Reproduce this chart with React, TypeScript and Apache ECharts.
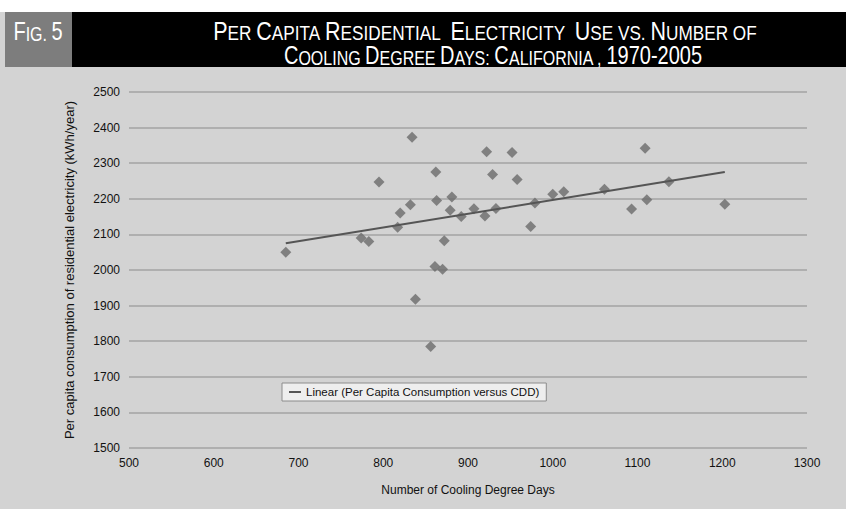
import React, { useEffect, useRef } from "react";
import * as echarts from "echarts";

// Cooling degree days (x) and per capita residential electricity use, kWh/year (y)
const cddValues = [
  685, 774, 783, 795, 817, 820, 832, 834, 838, 856, 861, 870, 862, 863, 872, 879, 881, 892,
  907, 920, 922, 929, 933, 952, 958, 974, 979, 1000, 1013, 1061, 1093, 1109, 1111, 1137, 1203,
];
const perCapitaValues = [
  2050, 2090, 2080, 2247, 2120, 2160, 2183, 2373, 1918, 1785, 2010, 2002, 2275, 2195, 2082, 2168, 2205, 2150,
  2172, 2152, 2332, 2268, 2173, 2330, 2254, 2122, 2188, 2213, 2220, 2227, 2171, 2342, 2197, 2248, 2185,
];
// Linear trendline end points
const trendX = [685, 1203];
const trendY = [2075, 2275];

const scatterName = "Per Capita Consumption versus CDD";
const trendName = "Linear (Per Capita Consumption versus CDD)";
const xAxisTitle = "Number of Cooling Degree Days";
const yAxisTitle = "Per capita consumption of residential electricity (kWh/year)";

const FONT = "Arial";

export default function App() {
  const ref = useRef<HTMLDivElement>(null);
  useEffect(() => {
    document.body.style.margin = "0";
    if (!ref.current) return;
    const chart = echarts.init(ref.current, undefined, { renderer: "svg" });
    const scatterData = cddValues.map((x, i) => [x, perCapitaValues[i]]);
    const trendData = trendX.map((x, i) => [x, trendY[i]]);
    const rich = {
      b: { fontSize: 25, fill: "#ffffff", fontFamily: FONT, verticalAlign: "bottom" },
      s: { fontSize: 20, fill: "#ffffff", fontFamily: FONT, verticalAlign: "bottom" },
    };
    chart.setOption({
      animation: false,
      backgroundColor: "#d3d3d3",
      textStyle: { fontFamily: FONT },
      graphic: [
        { type: "rect", shape: { x: 0, y: 0, width: 846, height: 12 }, style: { fill: "#ffffff" }, silent: true },
        { type: "rect", shape: { x: 5, y: 12, width: 67, height: 55 }, style: { fill: "#7d7d7d" }, silent: true },
        { type: "rect", shape: { x: 72, y: 12, width: 774, height: 55 }, style: { fill: "#000000" }, silent: true },
        {
          type: "text",
          x: 38,
          y: 32,
          scaleX: 0.8,
          style: {
            text: "{b|F}{s|IG.} {b|5}",
            rich,
            fontSize: 20,
            fontFamily: FONT,
            fill: "#ffffff",
            align: "center",
            verticalAlign: "middle",
          },
        },
        {
          type: "text",
          x: 485,
          y: 31,
          scaleX: 0.86,
          style: {
            text:
              "{b|P}{s|ER} {b|C}{s|APITA} {b|R}{s|ESIDENTIAL}  {b|E}{s|LECTRICITY}  {b|U}{s|SE} {s|VS.} {b|N}{s|UMBER} {s|OF}",
            rich,
            fontSize: 20,
            fontFamily: FONT,
            fill: "#ffffff",
            align: "center",
            verticalAlign: "middle",
          },
        },
        {
          type: "text",
          x: 493,
          y: 56,
          scaleX: 0.8,
          style: {
            text: "{b|C}{s|OOLING} {b|D}{s|EGREE} {b|D}{s|AYS:} {b|C}{s|ALIFORNIA ,} {b|1970-2005}",
            rich,
            fontSize: 20,
            fontFamily: FONT,
            fill: "#ffffff",
            align: "center",
            verticalAlign: "middle",
          },
        },
      ],
      grid: { left: 129, right: 39, top: 92, bottom: 61, containLabel: false },
      legend: {
        left: 282,
        top: 383,
        data: [{ name: trendName, icon: "rect" }],
        itemWidth: 12,
        itemHeight: 2,
        itemGap: 4,
        padding: [3, 7],
        backgroundColor: "#eeeeee",
        borderColor: "#8c8c8c",
        borderWidth: 1,
        textStyle: { fontSize: 11.5, color: "#111111", fontFamily: FONT },
      },
      xAxis: {
        type: "value",
        min: 500,
        max: 1300,
        interval: 100,
        name: xAxisTitle,
        nameLocation: "middle",
        nameGap: 36,
        nameTextStyle: { fontSize: 12, color: "#111111", fontFamily: FONT },
        axisLine: { show: false },
        axisTick: { show: false },
        splitLine: { show: false },
        axisLabel: { fontSize: 12, color: "#111111", margin: 9, fontFamily: FONT, formatter: (v: number) => String(v) },
      },
      yAxis: {
        type: "value",
        min: 1500,
        max: 2500,
        interval: 100,
        name: yAxisTitle,
        nameLocation: "middle",
        nameGap: 53,
        nameTextStyle: { fontSize: 13, color: "#111111", fontFamily: FONT },
        axisLine: { show: false },
        axisTick: { show: false },
        splitLine: { show: true, lineStyle: { color: "#a3a3a3", width: 1.5 } },
        axisLabel: { fontSize: 12, color: "#111111", margin: 9, fontFamily: FONT, formatter: (v: number) => String(v) },
      },
      series: [
        {
          name: scatterName,
          type: "scatter",
          data: scatterData,
          symbol: "diamond",
          symbolSize: 11,
          itemStyle: { color: "#6b6b6b" },
          z: 2,
        },
        {
          name: trendName,
          type: "line",
          data: trendData,
          symbol: "none",
          lineStyle: { color: "#555555", width: 2 },
          itemStyle: { color: "#555555" },
          z: 3,
        },
      ],
    });
    return () => chart.dispose();
  }, []);
  return (
    <div
      ref={ref}
      style={{ position: "fixed", left: 0, top: 0, width: 846, height: 509 }}
    />
  );
}
